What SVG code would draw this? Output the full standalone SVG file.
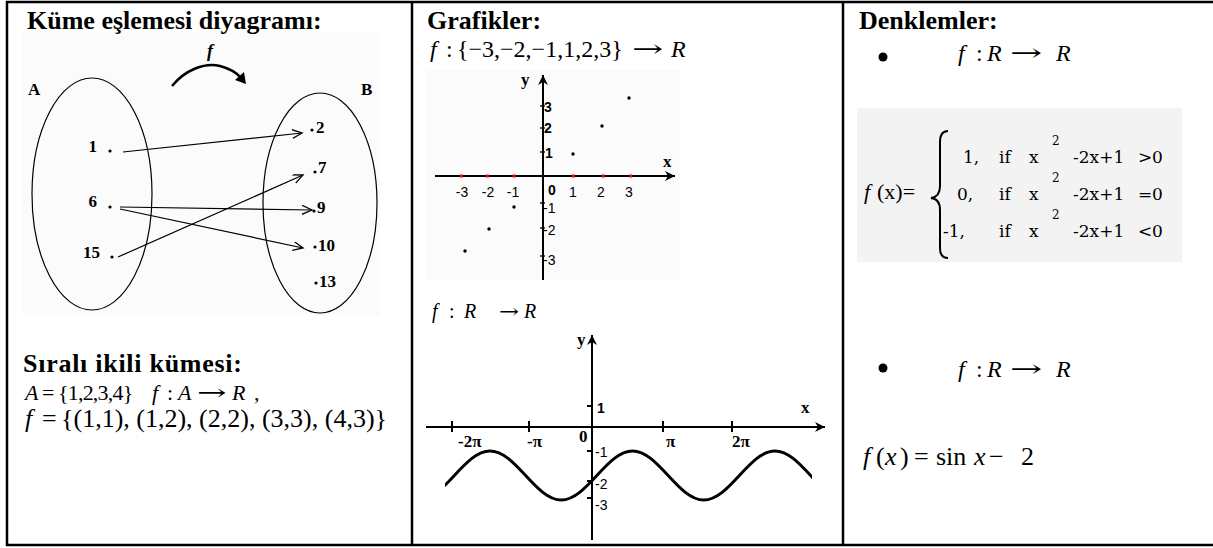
<svg xmlns="http://www.w3.org/2000/svg" width="1213" height="548" viewBox="0 0 1213 548">
<defs>
<style>
.t{font-family:"Liberation Serif","Times New Roman",serif;fill:#000}
.h{font-weight:bold;font-size:26px}
.i{font-style:italic}
.arr{font-family:"DejaVu Serif","DejaVu Sans",serif;fill:#000}
.sl{font-family:"Liberation Serif","Times New Roman",serif;font-weight:bold;font-size:17px;fill:#000}
.lb{font-family:"Liberation Sans",Arial,sans-serif;font-size:14px;fill:#000}
.pw{font-family:"DejaVu Serif",serif;font-size:17px;fill:#000}
.ln{stroke:#000;fill:none}
.dot{fill:#000}
.red{fill:#ff0000}
</style>
<marker id="v" markerUnits="userSpaceOnUse" markerWidth="12" markerHeight="10" refX="10" refY="4.5" orient="auto"><path d="M0,0 L10,4.5 L0,9" fill="none" stroke="#000" stroke-width="1.3"/></marker>
<marker id="fa" markerUnits="userSpaceOnUse" markerWidth="12" markerHeight="12" refX="10" refY="5" orient="auto"><path d="M0,0 L10,5 L0,10 L3,5 Z" fill="#000"/></marker>
<clipPath id="sc"><rect x="445" y="430" width="367" height="80"/></clipPath>
</defs>
<rect width="1213" height="548" fill="#fff"/>

<g id="table" class="ln" stroke="#000">
<line x1="6" y1="2" x2="1213" y2="2" stroke-width="2.5"/>
<line x1="6" y1="545" x2="1213" y2="545" stroke-width="2.5"/>
<line x1="7" y1="1" x2="7" y2="546" stroke-width="2.5"/>
<line x1="412" y1="1" x2="412" y2="546" stroke-width="2.5"/>
<line x1="843" y1="1" x2="843" y2="546" stroke-width="2.5"/>
</g>

<!-- Left panel -->
<rect x="22" y="32" width="358" height="283" fill="#fbfbfb"/>
<text class="t h" x="27" y="29">Küme eşlemesi diyagramı:</text>
<text class="t i" x="207" y="57" font-weight="bold" font-size="18">f</text>
<g id="f-arrow">
<path class="ln" d="M172,86 C185,70 205,62 220,66 C231,69 238,74 241,78" stroke-width="2.5"/>
<polygon points="246,84 244,72 235,80" fill="#000"/>
</g>

<g id="setA">
<ellipse class="ln" cx="92" cy="194" rx="60" ry="116" stroke-width="1.2"/>
<text class="sl" x="28" y="95" font-size="19">A</text>
</g>
<g id="setB">
<ellipse class="ln" cx="320" cy="203" rx="57" ry="110" stroke-width="1.2"/>
<text class="sl" x="361" y="95" font-size="19">B</text>
</g>
<g id="a1"><text class="sl" x="97" y="152" text-anchor="end">1</text><circle class="dot" cx="110" cy="151" r="1.6"/></g>
<g id="a6"><text class="sl" x="97" y="207" text-anchor="end">6</text><circle class="dot" cx="110" cy="207" r="1.6"/></g>
<g id="a15"><text class="sl" x="100" y="258" text-anchor="end">15</text><circle class="dot" cx="112" cy="257" r="1.6"/></g>
<g id="b2"><circle class="dot" cx="312" cy="130" r="1.6"/><text class="sl" x="316" y="133">2</text></g>
<g id="b7"><circle class="dot" cx="315" cy="172" r="1.6"/><text class="sl" x="318" y="173">7</text></g>
<g id="b9"><circle class="dot" cx="314" cy="211" r="1.6"/><text class="sl" x="317" y="213">9</text></g>
<g id="b10"><circle class="dot" cx="315" cy="247" r="1.6"/><text class="sl" x="318" y="251">10</text></g>
<g id="b13"><circle class="dot" cx="316" cy="283" r="1.6"/><text class="sl" x="319" y="287">13</text></g>

<g id="connectors" class="ln" stroke-width="1.2">
<line x1="123" y1="152" x2="302" y2="133" marker-end="url(#v)"/>
<line x1="120" y1="207" x2="312" y2="210" marker-end="url(#v)"/>
<line x1="120" y1="209" x2="303" y2="248" marker-end="url(#v)"/>
<line x1="118" y1="257" x2="303" y2="175" marker-end="url(#v)"/>
</g>

<text class="t h" x="23" y="372" font-size="27" textLength="219">Sıralı ikili kümesi:</text>
<text class="t" y="400" font-size="22"><tspan class="i" x="25">A</tspan><tspan x="42">=</tspan><tspan x="58" letter-spacing="-0.8">{1,2,3,4}</tspan><tspan class="i" x="152">f</tspan><tspan x="167">:</tspan><tspan class="i" x="178">A</tspan><tspan class="i" x="232">R</tspan><tspan x="254">,</tspan></text>
<text class="arr" font-size="22" transform="translate(197,400) scale(1.6,1)">→</text>
<text class="t" y="427" font-size="26"><tspan class="i" x="25">f</tspan><tspan x="42">=</tspan><tspan x="61">{(1,1), (1,2), (2,2), (3,3), (4,3)}</tspan></text>

<!-- Middle panel -->
<text class="t h" x="427" y="29">Grafikler:</text>
<text class="t" y="57" font-size="24"><tspan class="i" x="430">f</tspan><tspan x="446">:</tspan><tspan x="457">{−3,−2,−1,1,2,3}</tspan><tspan class="i" x="671">R</tspan></text>
<text class="arr" font-size="24" transform="translate(632,57) scale(1.55,1)">→</text>

<g id="graph1">
<rect x="427" y="70" width="253" height="210" fill="#fbfbfb"/>
<line class="ln" x1="435" y1="176" x2="675" y2="176" stroke-width="2" marker-end="url(#fa)"/>
<line class="ln" x1="543" y1="280" x2="543" y2="75" stroke-width="2" marker-end="url(#fa)"/>
<rect class="red" x="460" y="174.5" width="3" height="3"/>
<rect class="red" x="486" y="174.5" width="3" height="3"/>
<rect class="red" x="512.5" y="174.5" width="3" height="3"/>
<rect class="red" x="572" y="174.5" width="3" height="3"/>
<rect class="red" x="602" y="174.5" width="3" height="3"/>
<rect class="red" x="629" y="174.5" width="3" height="3"/>
<g class="ln" stroke-width="1.3">
<line x1="540" y1="106" x2="545" y2="106"/><line x1="540" y1="128" x2="545" y2="128"/><line x1="540" y1="152" x2="545" y2="152"/>
<line x1="540" y1="203" x2="545" y2="203"/><line x1="540" y1="228" x2="545" y2="228"/><line x1="540" y1="256" x2="545" y2="256"/>
</g>
<g class="lb" text-anchor="middle">
<text x="462" y="197">-3</text><text x="488" y="197">-2</text><text x="513" y="197">-1</text>
<text x="573" y="197">1</text><text x="601" y="197">2</text><text x="629" y="197">3</text>
</g>
<text class="lb" x="548" y="195" font-weight="bold">0</text>
<g class="lb">
<text x="544" y="112" font-weight="bold">3</text><text x="544" y="133" font-weight="bold">2</text><text x="545" y="158" font-weight="bold">1</text>
<text x="543" y="213">-1</text><text x="543" y="235">-2</text><text x="543" y="265">-3</text>
</g>
<text class="sl" x="521" y="85" font-size="15">y</text>
<text class="sl" x="663" y="167" font-size="15">x</text>
<circle class="dot" cx="629" cy="98" r="1.7"/><circle class="dot" cx="602" cy="126" r="1.7"/><circle class="dot" cx="573" cy="154" r="1.7"/>
<circle class="dot" cx="514" cy="207" r="1.7"/><circle class="dot" cx="489" cy="229" r="1.7"/><circle class="dot" cx="465" cy="251" r="1.7"/>
</g>

<text class="t i" y="318" font-size="20"><tspan x="432">f</tspan><tspan x="449" font-style="normal">:</tspan><tspan x="464">R</tspan><tspan x="524">R</tspan></text>
<text class="arr" font-size="20" transform="translate(499,318) scale(1.2,1)">→</text>

<g id="graph2">
<line class="ln" x1="426" y1="427" x2="825" y2="427" stroke-width="2" marker-end="url(#fa)"/>
<line class="ln" x1="592" y1="540" x2="592" y2="335" stroke-width="2" marker-end="url(#fa)"/>
<g class="ln" stroke-width="2">
<line x1="452" y1="421" x2="452" y2="432"/><line x1="529" y1="421" x2="529" y2="432"/>
<line x1="663" y1="421" x2="663" y2="432"/><line x1="732" y1="421" x2="732" y2="432"/>
<line x1="587" y1="406" x2="593" y2="406"/><line x1="587" y1="451" x2="593" y2="451"/>
<line x1="587" y1="481" x2="593" y2="481"/><line x1="587" y1="498" x2="593" y2="498"/>
</g>
<g class="sl" font-size="16">
<text x="458" y="447">-2π</text><text x="527" y="447">-π</text><text x="579" y="442">0</text>
<text x="666" y="447">π</text><text x="732" y="447">2π</text>
</g>
<g class="lb">
<text x="597" y="413" font-weight="bold">1</text><text x="595" y="457">-1</text><text x="595" y="489">-2</text><text x="595" y="510">-3</text>
</g>
<text class="sl" x="577" y="345" font-size="15">y</text>
<text class="sl" x="801" y="413" font-size="15">x</text>
<path class="ln" clip-path="url(#sc)" stroke-width="3" d="M418.75,500 C444.65,500 464.1,451 490,451 C515.9,451 535.35,500 561.25,500 C587.15,500 606.6,451 632.5,451 C658.4,451 677.85,500 703.75,500 C729.65,500 749.1,451 775,451 C800.9,451 820.35,500 846.25,500"/>
</g>

<!-- Right panel -->
<text class="t h" x="859" y="29">Denklemler:</text>
<circle class="dot" cx="883" cy="57" r="4.5"/>
<text class="t i" y="61" font-size="24"><tspan x="958">f</tspan><tspan x="976" font-style="normal">:</tspan><tspan x="987">R</tspan><tspan x="1056">R</tspan></text>
<text class="arr" font-size="24" transform="translate(1010,61) scale(1.6,1)">→</text>

<g id="piecewise">
<rect x="857" y="108" width="325" height="154" fill="#f3f3f3"/>
<text class="t" y="199" font-size="22"><tspan class="i" x="864">f</tspan><tspan x="877">(x)=</tspan></text>
<path class="ln" stroke-width="2" d="M948,131 Q940,131 940,142 L940,186 Q940,197 931,198 Q940,199 940,210 L940,248 Q940,258 948,258"/>
<g class="pw">
<text x="963" y="163">1,</text><text x="999" y="163">if</text><text x="1029" y="163">x</text><text x="1073" y="163">-2x+1</text><text x="1138" y="163">&gt;</text><text x="1152" y="163">0</text>
<text x="957" y="200">0,</text><text x="999" y="200">if</text><text x="1029" y="200">x</text><text x="1073" y="200">-2x+1</text><text x="1138" y="200">=</text><text x="1152" y="200">0</text>
<text x="943" y="237">-1,</text><text x="999" y="237">if</text><text x="1029" y="237">x</text><text x="1073" y="237">-2x+1</text><text x="1138" y="237">&lt;</text><text x="1152" y="237">0</text>
<text x="1052" y="145" font-size="12">2</text>
<text x="1052" y="182" font-size="12">2</text>
<text x="1052" y="219" font-size="12">2</text>
</g>
</g>

<circle class="dot" cx="883" cy="368" r="4.5"/>
<text class="t i" y="377" font-size="24"><tspan x="958">f</tspan><tspan x="976" font-style="normal">:</tspan><tspan x="987">R</tspan><tspan x="1056">R</tspan></text>
<text class="arr" font-size="24" transform="translate(1010,377) scale(1.6,1)">→</text>
<text class="t" y="465" font-size="26"><tspan class="i" x="863">f</tspan><tspan x="876">(</tspan><tspan class="i" x="885">x</tspan><tspan x="900">)</tspan><tspan x="914">=</tspan><tspan x="936">sin</tspan><tspan class="i" x="974">x</tspan><tspan x="989">−</tspan><tspan x="1021">2</tspan></text>
</svg>
